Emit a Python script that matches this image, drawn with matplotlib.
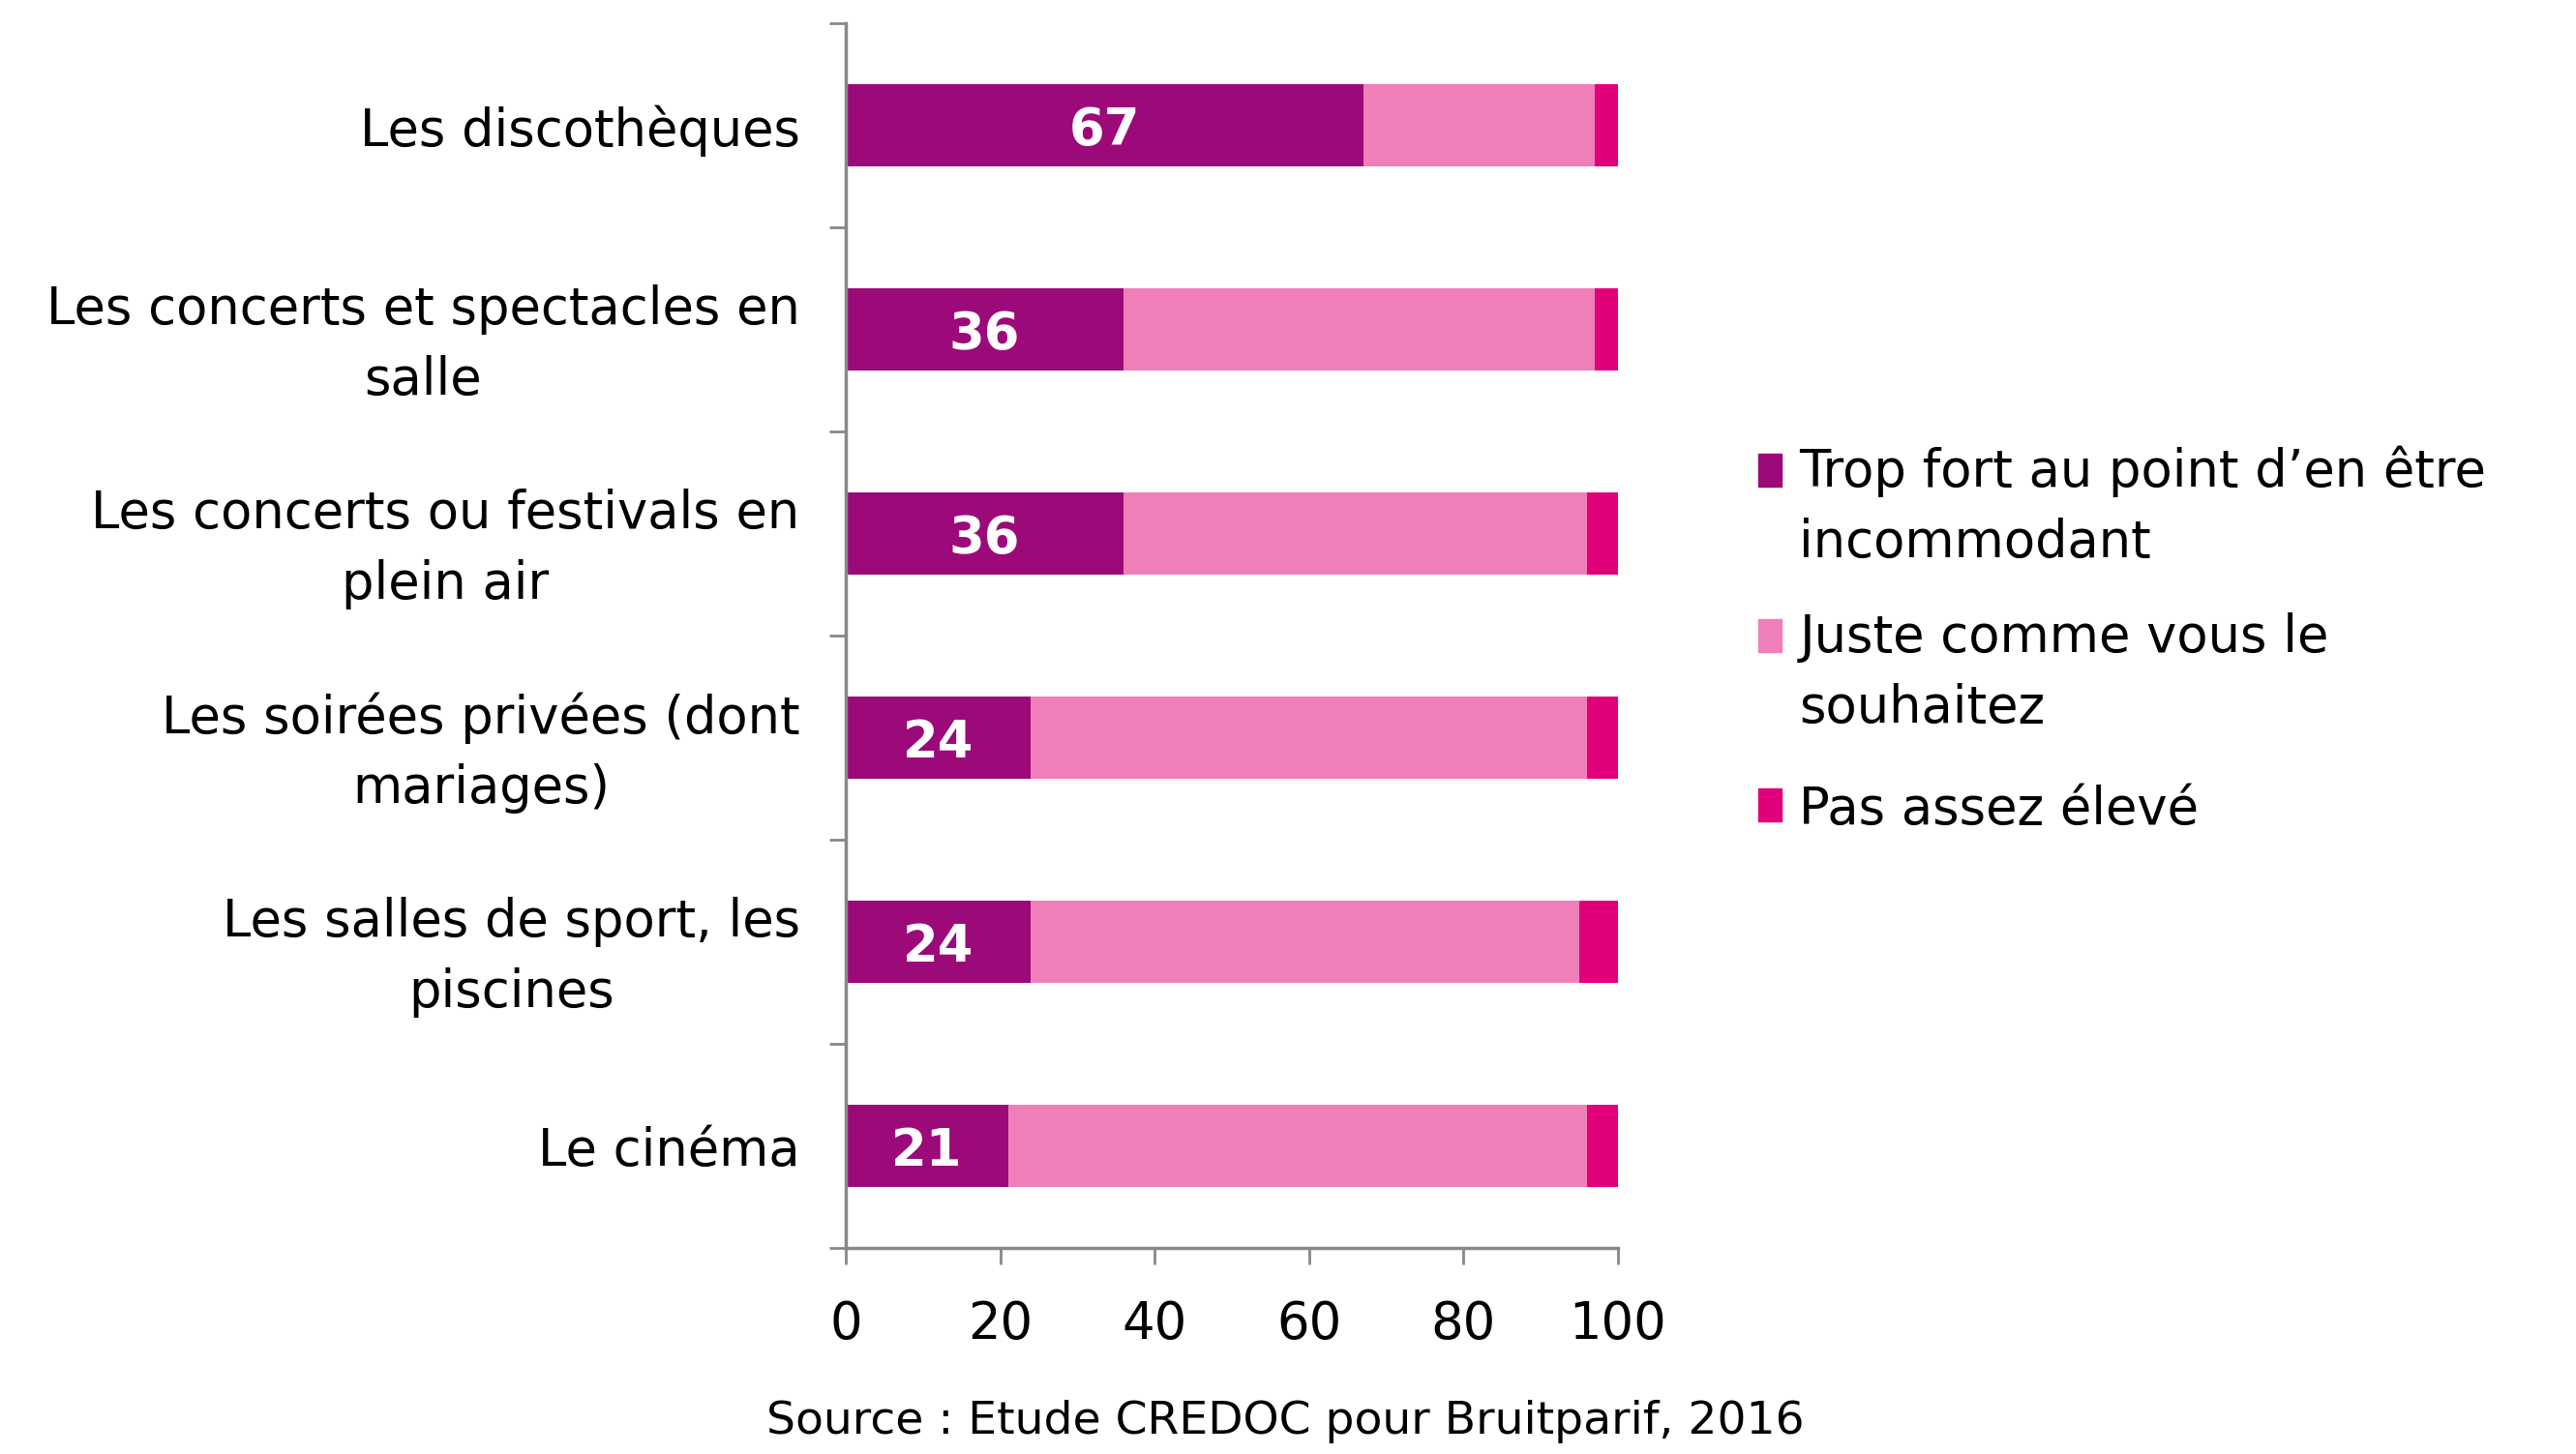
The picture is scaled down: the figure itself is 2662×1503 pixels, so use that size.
import numpy as np
import matplotlib
matplotlib.use('Agg')
import matplotlib.pyplot as plt
from matplotlib.patches import Rectangle

categories = [
    "Les discothèques",
    "Les concerts et spectacles en\nsalle",
    "Les concerts ou festivals en\nplein air",
    "Les soirées privées (dont\nmariages)",
    "Les salles de sport, les\npiscines",
    "Le cinéma",
]
trop_fort = [67, 36, 36, 24, 24, 21]
juste = [30, 61, 60, 72, 71, 75]
pas_assez = [3, 3, 4, 4, 5, 4]

series_names = [
    "Trop fort au point d\u2019en être\nincommodant",
    "Juste comme vous le\nsouhaitez",
    "Pas assez élevé",
]
colors = ["#9c0a7a", "#f07fb9", "#e2007a"]

FS = 38
LS = 1.5
plt.rcParams['font.family'] = ['DejaVu Sans']

fig = plt.figure(figsize=(26.62, 15.03), dpi=100)
ax = fig.add_axes([0.3283, 0.1417, 0.2998, 0.8423])

y = np.arange(len(categories))
h = 0.4
left = np.zeros(len(categories))
bars = []
for vals, c in zip([trop_fort, juste, pas_assez], colors):
    b = ax.barh(y, vals, left=left, height=h, color=c, edgecolor='none')
    bars.append(b)
    left = left + np.array(vals)

lbls = ax.bar_label(bars[0], labels=[str(v) for v in trop_fort], label_type='center',
                    color='white', fontsize=FS, fontweight='bold')
for t in lbls:
    t.set_va('center_baseline')

ax.set_xlim(0, 100)
ax.set_ylim(len(categories) - 0.5, -0.5)
ax.set_xticks([0, 20, 40, 60, 80, 100])
ax.tick_params(axis='x', labelsize=FS, length=12, width=2, color='#888888', pad=26)

ax.set_yticks(y)
ax.set_yticklabels(categories, fontsize=FS, multialignment='center', linespacing=LS)
ax.tick_params(axis='y', which='major', length=0, pad=34)
ax.set_yticks(np.arange(-0.5, len(categories), 1), minor=True)
ax.tick_params(axis='y', which='minor', length=12, width=2, color='#888888')

for s in ['top', 'right']:
    ax.spines[s].set_visible(False)
for s in ['left', 'bottom']:
    ax.spines[s].set_color('#888888')
    ax.spines[s].set_linewidth(2.5)

# legend drawn by hand so the squares sit on the first text line
leg_base = [0.6633, 0.5494, 0.433]
line_step = 0.0463
for name, c, yb in zip(series_names, colors, leg_base):
    nlines = name.count("\n")
    fig.patches.append(Rectangle((0.6826, yb + 0.002), 0.0088, 0.0226,
                                 transform=fig.transFigure, color=c))
    fig.text(0.6985, yb - nlines * line_step, name, fontsize=FS, va='baseline',
             ha='left', linespacing=LS)

fig.text(0.499, 0.0226, "Source : Etude CREDOC pour Bruitparif, 2016",
         fontsize=34, ha='center', va='center')

fig.savefig('out.png', dpi=100, facecolor='white')
